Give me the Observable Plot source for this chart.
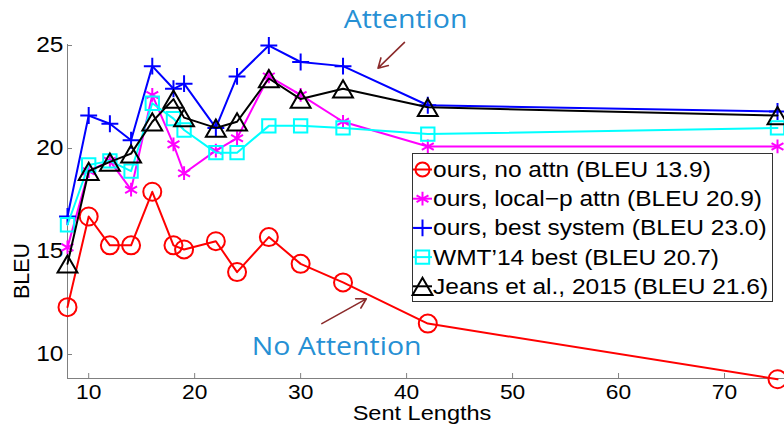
<!DOCTYPE html>
<html><head><meta charset="utf-8">
<script src="https://cdn.jsdelivr.net/npm/d3@7"></script>
<script src="https://cdn.jsdelivr.net/npm/@observablehq/plot@0.6"></script>
<style>html,body{margin:0;padding:0;background:#fff;}#chart{width:784px;height:425px;overflow:hidden;}</style>
</head><body><div id="chart"></div>
<script>
// ---- data ----
const lengths = [8, 10, 12, 14, 16, 18, 19, 22, 24, 27, 30, 34, 42, 75];
const noAttn  = [12.3, 16.7, 15.3, 15.3, 17.9, 15.3, 15.1, 15.5, 14.0, 15.7, 14.4, 13.5, 11.5, 8.8];
const localP  = [15.2, 18.9, 19.4, 18.0, 22.6, 20.2, 18.8, 19.9, 20.5, 23.5, 22.6, 21.3, 20.1, 20.1];
const bestSys = [16.7, 21.6, 21.2, 20.4, 24.0, 22.9, 23.15, 21.0, 23.5, 25.0, 24.2, 24.0, 22.1, 21.8];
const wmt14   = [16.3, 19.2, 19.4, 18.9, 22.2, 21.45, 20.9, 19.8, 19.8, 21.1, 21.1, 21.0, 20.7, 21.0];
const jeans   = [14.4, 18.9, 19.35, 19.75, 21.3, 22.4, 21.5, 21.0, 21.3, 23.4, 22.4, 22.9, 22.0, 21.6];
const seriesNames = [
  "ours, no attn (BLEU 13.9)",
  "ours, local\u2212p attn (BLEU 20.9)",
  "ours, best system (BLEU 23.0)",
  "WMT\u201914 best (BLEU 20.7)",
  "Jeans et al., 2015 (BLEU 21.6)"
];
const xTicks = [10, 20, 30, 40, 50, 60, 70];
const yTicks = [10, 15, 20, 25];
const xLabel = "Sent Lengths";
const yLabel = "BLEU";
const annotationTexts = ["Attention", "No Attention"];

// ---- styles ----
const seriesValues = [noAttn, localP, bestSys, wmt14, jeans];
const styles = [
  {color: "#ff0000", symbol: "circle", r: 9, dy: 0},
  {color: "#ff00ff", symbol: "asterisk", r: 6.5, dy: 0},
  {color: "#0000ff", symbol: "plus", r: 5.5, dy: 0},
  {color: "#00ffff", symbol: "square2", r: 8.5, dy: 0},
  {color: "#000000", symbol: "triangle2", r: 9.5, dy: 3}
];
const annoStyle = [
  {x: 39.9, y: 26.23, ax1: 39.8, ay1: 25.15, ax2: 37.3, ay2: 23.9},
  {x: 33.4, y: 10.35, ax1: 32.0, ay1: 11.5, ax2: 36.2, ay2: 12.7}
];
const STRETCH = 1.14;
const FONT = "'Liberation Sans', Arial, Helvetica, sans-serif";

const series = seriesNames.map((name, i) => ({
  name, style: styles[i],
  rows: lengths.map((x, j) => ({x, y: seriesValues[i][j]}))
}));

const marks = [
  Plot.ruleX([8], {stroke: "#808080", strokeWidth: 1}),
  Plot.ruleY([8.835], {x1: 8, x2: 76, stroke: "#808080", strokeWidth: 1}),
  Plot.axisX({ticks: xTicks, tickSize: -5, tickPadding: 11.3, stroke: "#808080", fill: "#000", fontSize: 20, label: null}),
  Plot.axisY({ticks: yTicks, tickSize: -5, tickPadding: 9, stroke: "#808080", fill: "#000", fontSize: 21.5, label: null})
];
for (const s of series) {
  marks.push(Plot.line(s.rows, {x: "x", y: "y", stroke: s.style.color, strokeWidth: 2}));
  marks.push(Plot.dot(s.rows, {x: "x", y: "y", symbol: s.style.symbol, r: s.style.r, dy: s.style.dy, stroke: s.style.color, strokeWidth: 2, fill: "none"}));
}
const annoRows = annotationTexts.map((t, i) => ({text: t, ...annoStyle[i]}));
marks.push(Plot.arrow(annoRows, {x1: "ax1", y1: "ay1", x2: "ax2", y2: "ay2", stroke: "#8b2b2b", strokeWidth: 1.6, headLength: 10}));
marks.push(Plot.text(annoRows, {x: "x", y: "y", text: "text", fill: "#2690d4", fontSize: 25, fontFamily: "'Open Sans', sans-serif", className: "anno"}));

const chart = Plot.plot({
  width: 784, height: 425,
  marginLeft: 67, marginRight: 7, marginTop: 44, marginBottom: 47,
  x: {domain: [8, 75]},
  y: {domain: [8.835, 25.05]},
  style: {fontFamily: FONT, background: "#fff", color: "#000"},
  marks
});
document.getElementById("chart").appendChild(chart);

const svg = d3.select(chart);
svg.selectAll('g[aria-label="x-axis tick label"] text, g[aria-label="y-axis tick label"] text, g.anno text').each(function () {
  const t = this.getAttribute("transform") || "";
  this.setAttribute("transform", t + ` scale(${STRETCH},1)`);
});

// axis titles
svg.append("text").attr("transform", `translate(422,420.3) scale(${STRETCH * 1.06},1)`)
  .attr("text-anchor", "middle").attr("font-size", 19.5).attr("font-family", FONT).attr("fill", "#000").text(xLabel);
svg.append("text").attr("transform", "translate(29,271) rotate(-90)")
  .attr("text-anchor", "middle").attr("font-size", 21.5).attr("font-family", FONT).attr("fill", "#000").text(yLabel);

// legend
const lg = svg.append("g").attr("class", "legend");
lg.append("rect").attr("x", 412.5).attr("y", 153.5).attr("width", 360).attr("height", 148)
  .attr("fill", "#fff").attr("stroke", "#333").attr("stroke-width", 1);
const symMap = {circle: d3.symbolCircle, asterisk: d3.symbolAsterisk, plus: d3.symbolPlus, square2: d3.symbolSquare2, triangle2: d3.symbolTriangle2};
series.forEach((s, i) => {
  const base = 177 + i * 29.2;
  const cy = base - 7.5;
  lg.append("line").attr("x1", 413).attr("x2", 432).attr("y1", cy).attr("y2", cy)
    .attr("stroke", s.style.color).attr("stroke-width", 2);
  const r = s.style.symbol === "circle" ? 7 : s.style.r;
  lg.append("path").attr("d", d3.symbol(symMap[s.style.symbol], Math.PI * r * r)())
    .attr("transform", `translate(422.5,${cy + s.style.dy})`)
    .attr("fill", "none").attr("stroke", s.style.color).attr("stroke-width", 2);
  lg.append("text").attr("transform", `translate(433,${base}) scale(${STRETCH},1)`)
    .attr("text-anchor", "start")
    .attr("font-size", 21.5).attr("font-family", FONT).attr("fill", "#000").text(s.name);
});
</script>
</body></html>
